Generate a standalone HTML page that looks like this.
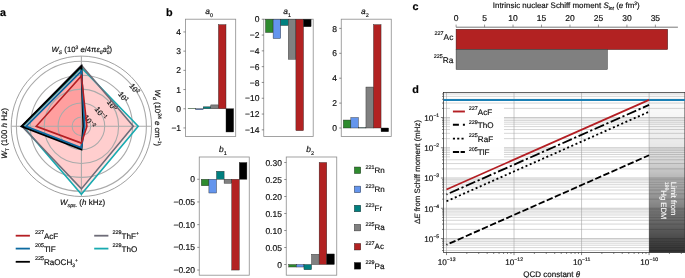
<!DOCTYPE html>
<html><head><meta charset="utf-8"><style>
html,body{margin:0;padding:0;background:#fff;width:685px;height:278px;overflow:hidden;font-family:"Liberation Sans",sans-serif;}
svg{display:block;will-change:transform;text-rendering:geometricPrecision}
text{stroke:#111;stroke-width:0.18px;stroke-linejoin:round}
</style></head><body>
<svg width="685" height="278" viewBox="0 0 685 278"><polygon points="81.40,65.30 133.30,126.30 81.40,188.90 21.90,126.30" fill="#ff0000" fill-opacity="0.100" stroke="none"/>
<polygon points="81.40,67.60 138.20,126.30 81.40,194.30 23.00,126.30" fill="#ff0000" fill-opacity="0.100" stroke="none"/>
<polygon points="81.40,66.40 83.40,126.30 81.40,149.30 21.60,126.30" fill="#ff0000" fill-opacity="0.088" stroke="none"/>
<polygon points="81.40,71.00 84.60,126.30 81.40,147.80 26.00,126.30" fill="#ff0000" fill-opacity="0.088" stroke="none"/>
<polygon points="81.40,75.90 86.90,126.30 81.40,143.10 36.20,126.30" fill="#ff0000" fill-opacity="0.088" stroke="none"/>
<circle cx="81.40" cy="126.30" r="70.20" fill="none" stroke="#808080" stroke-width="0.75"/>
<circle cx="81.40" cy="126.30" r="9.30" fill="none" stroke="#aaaaaa" stroke-width="1.1"/>
<circle cx="81.40" cy="126.30" r="23.30" fill="none" stroke="#aaaaaa" stroke-width="1.1"/>
<circle cx="81.40" cy="126.30" r="37.20" fill="none" stroke="#aaaaaa" stroke-width="1.1"/>
<circle cx="81.40" cy="126.30" r="51.10" fill="none" stroke="#aaaaaa" stroke-width="1.1"/>
<circle cx="81.40" cy="126.30" r="65.00" fill="none" stroke="#aaaaaa" stroke-width="1.1"/>
<line x1="81.40" y1="56.10" x2="81.40" y2="196.50" stroke="#aaaaaa" stroke-width="1.1"/>
<line x1="11.20" y1="126.30" x2="151.60" y2="126.30" stroke="#aaaaaa" stroke-width="1.1"/>
<text x="0" y="0" font-family="Liberation Sans, sans-serif" font-size="7.6" fill="#111" text-anchor="middle" transform="translate(88.92,120.83) rotate(52) translate(0.8,2.7)">10<tspan dy="-2.9" font-size="5">−2</tspan></text>
<text x="0" y="0" font-family="Liberation Sans, sans-serif" font-size="7.6" fill="#111" text-anchor="middle" transform="translate(100.25,112.60) rotate(52) translate(0.8,2.7)">10<tspan dy="-2.9" font-size="5">−1</tspan></text>
<text x="0" y="0" font-family="Liberation Sans, sans-serif" font-size="7.6" fill="#111" text-anchor="middle" transform="translate(111.50,104.43) rotate(52) translate(0.8,2.7)">10<tspan dy="-2.9" font-size="5">0</tspan></text>
<text x="0" y="0" font-family="Liberation Sans, sans-serif" font-size="7.6" fill="#111" text-anchor="middle" transform="translate(122.74,96.26) rotate(52) translate(0.8,2.7)">10<tspan dy="-2.9" font-size="5">1</tspan></text>
<text x="0" y="0" font-family="Liberation Sans, sans-serif" font-size="7.6" fill="#111" text-anchor="middle" transform="translate(133.99,88.09) rotate(52) translate(0.8,2.7)">10<tspan dy="-2.9" font-size="5">2</tspan></text>
<polygon points="81.40,67.60 138.20,126.30 81.40,194.30 23.00,126.30" fill="none" stroke="#18aab0" stroke-width="1.6" stroke-linejoin="miter"/>
<polygon points="81.40,65.30 133.30,126.30 81.40,188.90 21.90,126.30" fill="none" stroke="#6e6c78" stroke-width="1.6" stroke-linejoin="miter"/>
<polygon points="81.40,66.40 83.40,126.30 81.40,149.30 21.60,126.30" fill="none" stroke="#000000" stroke-width="2.0" stroke-linejoin="miter"/>
<polygon points="81.40,71.00 84.60,126.30 81.40,147.80 26.00,126.30" fill="none" stroke="#0c6aa0" stroke-width="1.8" stroke-linejoin="miter"/>
<polygon points="81.40,75.90 86.90,126.30 81.40,143.10 36.20,126.30" fill="none" stroke="#b41e23" stroke-width="1.6" stroke-linejoin="miter"/>
<text x="0" y="15.5" font-family="Liberation Sans, sans-serif" font-size="10.8" font-weight="bold">a</text>
<text x="51.6" y="51.7" font-family="Liberation Sans, sans-serif" font-size="7.7" fill="#111"><tspan font-style="italic">W</tspan><tspan font-size="5" dy="1.8" font-style="italic">S</tspan><tspan dy="-1.8"> (10</tspan><tspan font-size="5" dy="-3">3</tspan><tspan dy="3"> </tspan><tspan font-style="italic">e</tspan>/4π<tspan font-style="italic">ε</tspan><tspan font-size="5" dy="1.8">0</tspan><tspan dy="-1.8" font-style="italic">a</tspan><tspan font-size="5" dy="1.8">0</tspan><tspan font-size="5" dx="-2.8" dy="-4.8">3</tspan><tspan dy="3">)</tspan></text>
<text x="60" y="205.2" font-family="Liberation Sans, sans-serif" font-size="8" fill="#111"><tspan font-style="italic">W</tspan><tspan font-size="5.2" dy="2.2" font-style="italic">sps.</tspan><tspan dy="-2.2"> (</tspan><tspan font-style="italic">h</tspan> kHz)</text>
<text x="0" y="0" font-family="Liberation Sans, sans-serif" font-size="8.1" fill="#111" transform="translate(7.0,158.8) rotate(-90)"><tspan font-style="italic">W</tspan><tspan font-size="5" dy="1.8">T</tspan><tspan dy="-1.8"> (100 </tspan><tspan font-style="italic">h</tspan> Hz)</text>
<text x="0" y="0" font-family="Liberation Sans, sans-serif" font-size="7.8" fill="#111" transform="translate(155.3,89.6) rotate(90)"><tspan font-style="italic">W</tspan><tspan font-size="5" dy="1.8">d</tspan><tspan dy="-1.8"> (10</tspan><tspan font-size="5" dy="-3">24</tspan><tspan dy="3"> </tspan><tspan font-style="italic">e</tspan> cm<tspan font-size="5" dy="-3">−1</tspan><tspan dy="3">)</tspan></text>
<line x1="15.7" y1="235.7" x2="29.9" y2="235.7" stroke="#b41e23" stroke-width="1.8"/>
<text x="34.9" y="238.7" font-family="Liberation Sans, sans-serif" font-size="8.1" fill="#111"><tspan font-size="5.4" dy="-4.6">227</tspan><tspan dy="4.6">AcF</tspan></text>
<line x1="15.7" y1="248.6" x2="29.9" y2="248.6" stroke="#0c6aa0" stroke-width="1.8"/>
<text x="34.9" y="251.6" font-family="Liberation Sans, sans-serif" font-size="8.1" fill="#111"><tspan font-size="5.4" dy="-4.6">205</tspan><tspan dy="4.6">TlF</tspan></text>
<line x1="15.7" y1="261.8" x2="29.9" y2="261.8" stroke="#000000" stroke-width="1.8"/>
<text x="34.9" y="264.8" font-family="Liberation Sans, sans-serif" font-size="8.1" fill="#111"><tspan font-size="5.4" dy="-4.6">225</tspan><tspan dy="4.6">RaOCH<tspan font-size="5" dy="1.8">3</tspan><tspan font-size="5" dy="-4.8">+</tspan></tspan></text>
<line x1="94.2" y1="235.7" x2="108.4" y2="235.7" stroke="#6e6c78" stroke-width="1.8"/>
<text x="112.5" y="238.7" font-family="Liberation Sans, sans-serif" font-size="8.1" fill="#111"><tspan font-size="5.4" dy="-4.6">229</tspan><tspan dy="4.6">ThF<tspan font-size="5" dy="-3.5">+</tspan></tspan></text>
<line x1="94.2" y1="248.6" x2="108.4" y2="248.6" stroke="#18aab0" stroke-width="1.8"/>
<text x="112.5" y="251.6" font-family="Liberation Sans, sans-serif" font-size="8.1" fill="#111"><tspan font-size="5.4" dy="-4.6">229</tspan><tspan dy="4.6">ThO</tspan></text>
<text x="166" y="16.1" font-family="Liberation Sans, sans-serif" font-size="10.8" font-weight="bold">b</text>
<rect x="185.40" y="19.20" width="50.30" height="117.30" fill="none" stroke="#8c8c8c" stroke-width="0.8"/>
<rect x="188.00" y="108.37" width="7.60" height="0.38" fill="#2e8b2e" stroke="#222" stroke-width="0.4"/>
<rect x="195.60" y="108.75" width="7.60" height="0.96" fill="#6495ed" stroke="#222" stroke-width="0.4"/>
<rect x="203.20" y="106.83" width="7.60" height="1.92" fill="#008080" stroke="#222" stroke-width="0.4"/>
<rect x="210.80" y="104.91" width="7.60" height="3.84" fill="#808080" stroke="#222" stroke-width="0.4"/>
<rect x="218.40" y="24.65" width="7.60" height="84.10" fill="#b22222" stroke="#222" stroke-width="0.4"/>
<rect x="226.00" y="108.75" width="7.60" height="23.23" fill="#000000" stroke="#222" stroke-width="0.4"/>
<line x1="183.40" y1="31.95" x2="185.40" y2="31.95" stroke="#444" stroke-width="0.6"/>
<text x="181.10" y="35.05" font-family="Liberation Sans, sans-serif" font-size="8.5" fill="#111" text-anchor="end">4</text>
<line x1="183.40" y1="51.15" x2="185.40" y2="51.15" stroke="#444" stroke-width="0.6"/>
<text x="181.10" y="54.25" font-family="Liberation Sans, sans-serif" font-size="8.5" fill="#111" text-anchor="end">3</text>
<line x1="183.40" y1="70.35" x2="185.40" y2="70.35" stroke="#444" stroke-width="0.6"/>
<text x="181.10" y="73.45" font-family="Liberation Sans, sans-serif" font-size="8.5" fill="#111" text-anchor="end">2</text>
<line x1="183.40" y1="89.55" x2="185.40" y2="89.55" stroke="#444" stroke-width="0.6"/>
<text x="181.10" y="92.65" font-family="Liberation Sans, sans-serif" font-size="8.5" fill="#111" text-anchor="end">1</text>
<line x1="183.40" y1="108.75" x2="185.40" y2="108.75" stroke="#444" stroke-width="0.6"/>
<text x="181.10" y="111.85" font-family="Liberation Sans, sans-serif" font-size="8.5" fill="#111" text-anchor="end">0</text>
<line x1="183.40" y1="127.95" x2="185.40" y2="127.95" stroke="#444" stroke-width="0.6"/>
<text x="181.10" y="131.05" font-family="Liberation Sans, sans-serif" font-size="8.5" fill="#111" text-anchor="end">−1</text>
<text x="209.15" y="14.40" font-family="Liberation Sans, sans-serif" font-size="8.4" fill="#111" text-anchor="middle"><tspan font-style="italic">a</tspan><tspan font-size="5.4" dy="2.4">0</tspan></text>
<rect x="263.75" y="19.20" width="49.45" height="117.30" fill="none" stroke="#8c8c8c" stroke-width="0.8"/>
<rect x="265.50" y="19.25" width="7.60" height="13.27" fill="#2e8b2e" stroke="#222" stroke-width="0.4"/>
<rect x="273.10" y="19.25" width="7.60" height="19.28" fill="#6495ed" stroke="#222" stroke-width="0.4"/>
<rect x="280.70" y="19.25" width="7.60" height="6.24" fill="#008080" stroke="#222" stroke-width="0.4"/>
<rect x="288.30" y="19.25" width="7.60" height="39.97" fill="#808080" stroke="#222" stroke-width="0.4"/>
<rect x="295.90" y="19.25" width="7.60" height="111.39" fill="#b22222" stroke="#222" stroke-width="0.4"/>
<rect x="303.50" y="19.25" width="7.60" height="7.50" fill="#000000" stroke="#222" stroke-width="0.4"/>
<line x1="261.75" y1="19.25" x2="263.75" y2="19.25" stroke="#444" stroke-width="0.6"/>
<text x="259.45" y="22.35" font-family="Liberation Sans, sans-serif" font-size="8.5" fill="#111" text-anchor="end">0</text>
<line x1="261.75" y1="35.05" x2="263.75" y2="35.05" stroke="#444" stroke-width="0.6"/>
<text x="259.45" y="38.15" font-family="Liberation Sans, sans-serif" font-size="8.5" fill="#111" text-anchor="end">−2</text>
<line x1="261.75" y1="50.85" x2="263.75" y2="50.85" stroke="#444" stroke-width="0.6"/>
<text x="259.45" y="53.95" font-family="Liberation Sans, sans-serif" font-size="8.5" fill="#111" text-anchor="end">−4</text>
<line x1="261.75" y1="66.65" x2="263.75" y2="66.65" stroke="#444" stroke-width="0.6"/>
<text x="259.45" y="69.75" font-family="Liberation Sans, sans-serif" font-size="8.5" fill="#111" text-anchor="end">−6</text>
<line x1="261.75" y1="82.45" x2="263.75" y2="82.45" stroke="#444" stroke-width="0.6"/>
<text x="259.45" y="85.55" font-family="Liberation Sans, sans-serif" font-size="8.5" fill="#111" text-anchor="end">−8</text>
<line x1="261.75" y1="98.25" x2="263.75" y2="98.25" stroke="#444" stroke-width="0.6"/>
<text x="259.45" y="101.35" font-family="Liberation Sans, sans-serif" font-size="8.5" fill="#111" text-anchor="end">−10</text>
<line x1="261.75" y1="114.05" x2="263.75" y2="114.05" stroke="#444" stroke-width="0.6"/>
<text x="259.45" y="117.15" font-family="Liberation Sans, sans-serif" font-size="8.5" fill="#111" text-anchor="end">−12</text>
<line x1="261.75" y1="129.85" x2="263.75" y2="129.85" stroke="#444" stroke-width="0.6"/>
<text x="259.45" y="132.95" font-family="Liberation Sans, sans-serif" font-size="8.5" fill="#111" text-anchor="end">−14</text>
<text x="287.08" y="14.40" font-family="Liberation Sans, sans-serif" font-size="8.4" fill="#111" text-anchor="middle"><tspan font-style="italic">a</tspan><tspan font-size="5.4" dy="2.4">1</tspan></text>
<rect x="341.25" y="19.20" width="50.00" height="117.30" fill="none" stroke="#8c8c8c" stroke-width="0.8"/>
<rect x="343.30" y="120.03" width="7.55" height="7.97" fill="#2e8b2e" stroke="#222" stroke-width="0.4"/>
<rect x="350.85" y="117.54" width="7.55" height="10.46" fill="#6495ed" stroke="#222" stroke-width="0.4"/>
<rect x="358.40" y="127.75" width="7.55" height="0.30" fill="#008080" stroke="#222" stroke-width="0.4"/>
<rect x="365.95" y="87.04" width="7.55" height="40.96" fill="#808080" stroke="#222" stroke-width="0.4"/>
<rect x="373.50" y="24.66" width="7.55" height="103.34" fill="#b22222" stroke="#222" stroke-width="0.4"/>
<rect x="381.05" y="128.00" width="7.55" height="3.74" fill="#000000" stroke="#222" stroke-width="0.4"/>
<line x1="339.25" y1="28.40" x2="341.25" y2="28.40" stroke="#444" stroke-width="0.6"/>
<text x="336.95" y="31.50" font-family="Liberation Sans, sans-serif" font-size="8.5" fill="#111" text-anchor="end">8</text>
<line x1="339.25" y1="53.30" x2="341.25" y2="53.30" stroke="#444" stroke-width="0.6"/>
<text x="336.95" y="56.40" font-family="Liberation Sans, sans-serif" font-size="8.5" fill="#111" text-anchor="end">6</text>
<line x1="339.25" y1="78.20" x2="341.25" y2="78.20" stroke="#444" stroke-width="0.6"/>
<text x="336.95" y="81.30" font-family="Liberation Sans, sans-serif" font-size="8.5" fill="#111" text-anchor="end">4</text>
<line x1="339.25" y1="103.10" x2="341.25" y2="103.10" stroke="#444" stroke-width="0.6"/>
<text x="336.95" y="106.20" font-family="Liberation Sans, sans-serif" font-size="8.5" fill="#111" text-anchor="end">2</text>
<line x1="339.25" y1="128.00" x2="341.25" y2="128.00" stroke="#444" stroke-width="0.6"/>
<text x="336.95" y="131.10" font-family="Liberation Sans, sans-serif" font-size="8.5" fill="#111" text-anchor="end">0</text>
<text x="364.85" y="14.40" font-family="Liberation Sans, sans-serif" font-size="8.4" fill="#111" text-anchor="middle"><tspan font-style="italic">a</tspan><tspan font-size="5.4" dy="2.4">2</tspan></text>
<rect x="199.25" y="157.00" width="50.00" height="118.20" fill="none" stroke="#8c8c8c" stroke-width="0.8"/>
<rect x="201.30" y="179.25" width="7.60" height="6.49" fill="#2e8b2e" stroke="#222" stroke-width="0.4"/>
<rect x="208.90" y="179.25" width="7.60" height="13.76" fill="#6495ed" stroke="#222" stroke-width="0.4"/>
<rect x="216.50" y="171.26" width="7.60" height="7.99" fill="#008080" stroke="#222" stroke-width="0.4"/>
<rect x="224.10" y="179.25" width="7.60" height="4.00" fill="#808080" stroke="#222" stroke-width="0.4"/>
<rect x="231.70" y="179.25" width="7.60" height="90.80" fill="#b22222" stroke="#222" stroke-width="0.4"/>
<rect x="239.30" y="162.54" width="7.60" height="16.71" fill="#000000" stroke="#222" stroke-width="0.4"/>
<line x1="197.25" y1="179.25" x2="199.25" y2="179.25" stroke="#444" stroke-width="0.6"/>
<text x="194.95" y="182.35" font-family="Liberation Sans, sans-serif" font-size="8.5" fill="#111" text-anchor="end">0</text>
<line x1="197.25" y1="201.95" x2="199.25" y2="201.95" stroke="#444" stroke-width="0.6"/>
<text x="194.95" y="205.05" font-family="Liberation Sans, sans-serif" font-size="8.5" fill="#111" text-anchor="end">−0.05</text>
<line x1="197.25" y1="224.65" x2="199.25" y2="224.65" stroke="#444" stroke-width="0.6"/>
<text x="194.95" y="227.75" font-family="Liberation Sans, sans-serif" font-size="8.5" fill="#111" text-anchor="end">−0.10</text>
<line x1="197.25" y1="247.35" x2="199.25" y2="247.35" stroke="#444" stroke-width="0.6"/>
<text x="194.95" y="250.45" font-family="Liberation Sans, sans-serif" font-size="8.5" fill="#111" text-anchor="end">−0.15</text>
<line x1="197.25" y1="270.05" x2="199.25" y2="270.05" stroke="#444" stroke-width="0.6"/>
<text x="194.95" y="273.15" font-family="Liberation Sans, sans-serif" font-size="8.5" fill="#111" text-anchor="end">−0.20</text>
<text x="222.85" y="152.20" font-family="Liberation Sans, sans-serif" font-size="8.4" fill="#111" text-anchor="middle"><tspan font-style="italic">b</tspan><tspan font-size="5.4" dy="2.4">1</tspan></text>
<rect x="286.25" y="157.00" width="50.50" height="118.20" fill="none" stroke="#8c8c8c" stroke-width="0.8"/>
<rect x="288.75" y="264.50" width="7.60" height="2.52" fill="#2e8b2e" stroke="#222" stroke-width="0.4"/>
<rect x="296.35" y="264.50" width="7.60" height="2.52" fill="#6495ed" stroke="#222" stroke-width="0.4"/>
<rect x="303.95" y="264.50" width="7.60" height="5.24" fill="#008080" stroke="#222" stroke-width="0.4"/>
<rect x="311.55" y="254.30" width="7.60" height="10.20" fill="#808080" stroke="#222" stroke-width="0.4"/>
<rect x="319.15" y="162.50" width="7.60" height="102.00" fill="#b22222" stroke="#222" stroke-width="0.4"/>
<rect x="326.75" y="253.96" width="7.60" height="10.54" fill="#000000" stroke="#222" stroke-width="0.4"/>
<line x1="284.25" y1="162.50" x2="286.25" y2="162.50" stroke="#444" stroke-width="0.6"/>
<text x="281.95" y="165.60" font-family="Liberation Sans, sans-serif" font-size="8.5" fill="#111" text-anchor="end">0.30</text>
<line x1="284.25" y1="179.50" x2="286.25" y2="179.50" stroke="#444" stroke-width="0.6"/>
<text x="281.95" y="182.60" font-family="Liberation Sans, sans-serif" font-size="8.5" fill="#111" text-anchor="end">0.25</text>
<line x1="284.25" y1="196.50" x2="286.25" y2="196.50" stroke="#444" stroke-width="0.6"/>
<text x="281.95" y="199.60" font-family="Liberation Sans, sans-serif" font-size="8.5" fill="#111" text-anchor="end">0.20</text>
<line x1="284.25" y1="213.50" x2="286.25" y2="213.50" stroke="#444" stroke-width="0.6"/>
<text x="281.95" y="216.60" font-family="Liberation Sans, sans-serif" font-size="8.5" fill="#111" text-anchor="end">0.15</text>
<line x1="284.25" y1="230.50" x2="286.25" y2="230.50" stroke="#444" stroke-width="0.6"/>
<text x="281.95" y="233.60" font-family="Liberation Sans, sans-serif" font-size="8.5" fill="#111" text-anchor="end">0.10</text>
<line x1="284.25" y1="247.50" x2="286.25" y2="247.50" stroke="#444" stroke-width="0.6"/>
<text x="281.95" y="250.60" font-family="Liberation Sans, sans-serif" font-size="8.5" fill="#111" text-anchor="end">0.05</text>
<line x1="284.25" y1="264.50" x2="286.25" y2="264.50" stroke="#444" stroke-width="0.6"/>
<text x="281.95" y="267.60" font-family="Liberation Sans, sans-serif" font-size="8.5" fill="#111" text-anchor="end">0</text>
<text x="310.10" y="152.20" font-family="Liberation Sans, sans-serif" font-size="8.4" fill="#111" text-anchor="middle"><tspan font-style="italic">b</tspan><tspan font-size="5.4" dy="2.4">2</tspan></text>
<rect x="354.3" y="167.00" width="6.5" height="6.6" fill="#2e8b2e" stroke="#222" stroke-width="0.4"/>
<text x="365.6" y="173.00" font-family="Liberation Sans, sans-serif" font-size="8" fill="#111"><tspan font-size="5.4" dy="-4.2">221</tspan><tspan dy="4.2">Rn</tspan></text>
<rect x="354.3" y="186.10" width="6.5" height="6.6" fill="#6495ed" stroke="#222" stroke-width="0.4"/>
<text x="365.6" y="192.10" font-family="Liberation Sans, sans-serif" font-size="8" fill="#111"><tspan font-size="5.4" dy="-4.2">223</tspan><tspan dy="4.2">Rn</tspan></text>
<rect x="354.3" y="205.20" width="6.5" height="6.6" fill="#008080" stroke="#222" stroke-width="0.4"/>
<text x="365.6" y="211.20" font-family="Liberation Sans, sans-serif" font-size="8" fill="#111"><tspan font-size="5.4" dy="-4.2">223</tspan><tspan dy="4.2">Fr</tspan></text>
<rect x="354.3" y="224.30" width="6.5" height="6.6" fill="#808080" stroke="#222" stroke-width="0.4"/>
<text x="365.6" y="230.30" font-family="Liberation Sans, sans-serif" font-size="8" fill="#111"><tspan font-size="5.4" dy="-4.2">225</tspan><tspan dy="4.2">Ra</tspan></text>
<rect x="354.3" y="243.40" width="6.5" height="6.6" fill="#b22222" stroke="#222" stroke-width="0.4"/>
<text x="365.6" y="249.40" font-family="Liberation Sans, sans-serif" font-size="8" fill="#111"><tspan font-size="5.4" dy="-4.2">227</tspan><tspan dy="4.2">Ac</tspan></text>
<rect x="354.3" y="262.50" width="6.5" height="6.6" fill="#000000" stroke="#222" stroke-width="0.4"/>
<text x="365.6" y="268.50" font-family="Liberation Sans, sans-serif" font-size="8" fill="#111"><tspan font-size="5.4" dy="-4.2">229</tspan><tspan dy="4.2">Pa</tspan></text>
<text x="412.5" y="9.9" font-family="Liberation Sans, sans-serif" font-size="10.8" font-weight="bold">c</text>
<text x="492.8" y="7.8" font-family="Liberation Sans, sans-serif" font-size="7.95" fill="#111">Intrinsic nuclear Schiff moment <tspan font-style="italic">S</tspan><tspan font-size="5" dy="1.8" font-style="italic">int</tspan><tspan dy="-1.8"> (</tspan><tspan font-style="italic">e</tspan> fm<tspan font-size="5" dy="-3">3</tspan><tspan dy="3">)</tspan></text>
<line x1="456.10" y1="27.2" x2="677.9" y2="27.2" stroke="#555" stroke-width="0.8"/>
<line x1="456.10" y1="24.6" x2="456.10" y2="27.2" stroke="#555" stroke-width="0.6"/>
<text x="456.10" y="21.4" font-family="Liberation Sans, sans-serif" font-size="8.5" fill="#111" text-anchor="middle">0</text>
<line x1="484.57" y1="24.6" x2="484.57" y2="27.2" stroke="#555" stroke-width="0.6"/>
<text x="484.57" y="21.4" font-family="Liberation Sans, sans-serif" font-size="8.5" fill="#111" text-anchor="middle">5</text>
<line x1="513.04" y1="24.6" x2="513.04" y2="27.2" stroke="#555" stroke-width="0.6"/>
<text x="513.04" y="21.4" font-family="Liberation Sans, sans-serif" font-size="8.5" fill="#111" text-anchor="middle">10</text>
<line x1="541.51" y1="24.6" x2="541.51" y2="27.2" stroke="#555" stroke-width="0.6"/>
<text x="541.51" y="21.4" font-family="Liberation Sans, sans-serif" font-size="8.5" fill="#111" text-anchor="middle">15</text>
<line x1="569.98" y1="24.6" x2="569.98" y2="27.2" stroke="#555" stroke-width="0.6"/>
<text x="569.98" y="21.4" font-family="Liberation Sans, sans-serif" font-size="8.5" fill="#111" text-anchor="middle">20</text>
<line x1="598.45" y1="24.6" x2="598.45" y2="27.2" stroke="#555" stroke-width="0.6"/>
<text x="598.45" y="21.4" font-family="Liberation Sans, sans-serif" font-size="8.5" fill="#111" text-anchor="middle">25</text>
<line x1="626.92" y1="24.6" x2="626.92" y2="27.2" stroke="#555" stroke-width="0.6"/>
<text x="626.92" y="21.4" font-family="Liberation Sans, sans-serif" font-size="8.5" fill="#111" text-anchor="middle">30</text>
<line x1="655.39" y1="24.6" x2="655.39" y2="27.2" stroke="#555" stroke-width="0.6"/>
<text x="655.39" y="21.4" font-family="Liberation Sans, sans-serif" font-size="8.5" fill="#111" text-anchor="middle">35</text>
<rect x="456.10" y="29.3" width="211.53" height="20.2" fill="#b22222" stroke="#3a1010" stroke-width="0.5"/>
<rect x="456.10" y="49.5" width="151.18" height="19.9" fill="#808080" stroke="#333" stroke-width="0.5"/>
<text x="453.3" y="39.6" font-family="Liberation Sans, sans-serif" font-size="8.3" fill="#111" text-anchor="end"><tspan font-size="5.4" dy="-4.4">227</tspan><tspan dy="4.4">Ac</tspan></text>
<text x="453.3" y="62.7" font-family="Liberation Sans, sans-serif" font-size="8.3" fill="#111" text-anchor="end"><tspan font-size="5.4" dy="-4.4">225</tspan><tspan dy="4.4">Ra</tspan></text>
<text x="412.3" y="93.1" font-family="Liberation Sans, sans-serif" font-size="10.8" font-weight="bold">d</text>
<defs><linearGradient id="gg" x1="0" y1="0" x2="0" y2="1"><stop offset="0.000" stop-color="#000" stop-opacity="0.012"/><stop offset="0.110" stop-color="#000" stop-opacity="0.027"/><stop offset="0.235" stop-color="#000" stop-opacity="0.055"/><stop offset="0.329" stop-color="#000" stop-opacity="0.090"/><stop offset="0.423" stop-color="#000" stop-opacity="0.157"/><stop offset="0.517" stop-color="#000" stop-opacity="0.263"/><stop offset="0.610" stop-color="#000" stop-opacity="0.373"/><stop offset="0.704" stop-color="#000" stop-opacity="0.478"/><stop offset="0.798" stop-color="#000" stop-opacity="0.588"/><stop offset="0.892" stop-color="#000" stop-opacity="0.686"/><stop offset="1.000" stop-color="#000" stop-opacity="0.812"/></linearGradient><clipPath id="dc"><rect x="443.50" y="92.50" width="241.40" height="160.00"/></clipPath></defs>
<g clip-path="url(#dc)">
<line x1="443.50" y1="250.54" x2="684.90" y2="250.54" stroke="#a0a0a0" stroke-opacity="0.55" stroke-width="0.8"/>
<line x1="443.50" y1="247.61" x2="684.90" y2="247.61" stroke="#a0a0a0" stroke-opacity="0.55" stroke-width="0.8"/>
<line x1="443.50" y1="245.21" x2="684.90" y2="245.21" stroke="#a0a0a0" stroke-opacity="0.55" stroke-width="0.8"/>
<line x1="443.50" y1="243.19" x2="684.90" y2="243.19" stroke="#a0a0a0" stroke-opacity="0.55" stroke-width="0.8"/>
<line x1="443.50" y1="241.43" x2="684.90" y2="241.43" stroke="#a0a0a0" stroke-opacity="0.55" stroke-width="0.8"/>
<line x1="443.50" y1="239.88" x2="684.90" y2="239.88" stroke="#a0a0a0" stroke-opacity="0.55" stroke-width="0.8"/>
<line x1="443.50" y1="238.50" x2="684.90" y2="238.50" stroke="#a0a0a0" stroke-opacity="0.70" stroke-width="0.8"/>
<line x1="443.50" y1="229.39" x2="684.90" y2="229.39" stroke="#a0a0a0" stroke-opacity="0.55" stroke-width="0.8"/>
<line x1="443.50" y1="224.07" x2="684.90" y2="224.07" stroke="#a0a0a0" stroke-opacity="0.55" stroke-width="0.8"/>
<line x1="443.50" y1="220.29" x2="684.90" y2="220.29" stroke="#a0a0a0" stroke-opacity="0.55" stroke-width="0.8"/>
<line x1="443.50" y1="217.36" x2="684.90" y2="217.36" stroke="#a0a0a0" stroke-opacity="0.55" stroke-width="0.8"/>
<line x1="443.50" y1="214.96" x2="684.90" y2="214.96" stroke="#a0a0a0" stroke-opacity="0.55" stroke-width="0.8"/>
<line x1="443.50" y1="212.94" x2="684.90" y2="212.94" stroke="#a0a0a0" stroke-opacity="0.55" stroke-width="0.8"/>
<line x1="443.50" y1="211.18" x2="684.90" y2="211.18" stroke="#a0a0a0" stroke-opacity="0.55" stroke-width="0.8"/>
<line x1="443.50" y1="209.63" x2="684.90" y2="209.63" stroke="#a0a0a0" stroke-opacity="0.55" stroke-width="0.8"/>
<line x1="443.50" y1="208.25" x2="684.90" y2="208.25" stroke="#a0a0a0" stroke-opacity="0.70" stroke-width="0.8"/>
<line x1="443.50" y1="199.14" x2="684.90" y2="199.14" stroke="#a0a0a0" stroke-opacity="0.55" stroke-width="0.8"/>
<line x1="443.50" y1="193.82" x2="684.90" y2="193.82" stroke="#a0a0a0" stroke-opacity="0.55" stroke-width="0.8"/>
<line x1="443.50" y1="190.04" x2="684.90" y2="190.04" stroke="#a0a0a0" stroke-opacity="0.55" stroke-width="0.8"/>
<line x1="443.50" y1="187.11" x2="684.90" y2="187.11" stroke="#a0a0a0" stroke-opacity="0.55" stroke-width="0.8"/>
<line x1="443.50" y1="184.71" x2="684.90" y2="184.71" stroke="#a0a0a0" stroke-opacity="0.55" stroke-width="0.8"/>
<line x1="443.50" y1="182.69" x2="684.90" y2="182.69" stroke="#a0a0a0" stroke-opacity="0.55" stroke-width="0.8"/>
<line x1="443.50" y1="180.93" x2="684.90" y2="180.93" stroke="#a0a0a0" stroke-opacity="0.55" stroke-width="0.8"/>
<line x1="443.50" y1="179.38" x2="684.90" y2="179.38" stroke="#a0a0a0" stroke-opacity="0.55" stroke-width="0.8"/>
<line x1="443.50" y1="178.00" x2="684.90" y2="178.00" stroke="#a0a0a0" stroke-opacity="0.70" stroke-width="0.8"/>
<line x1="443.50" y1="168.89" x2="684.90" y2="168.89" stroke="#a0a0a0" stroke-opacity="0.55" stroke-width="0.8"/>
<line x1="443.50" y1="163.57" x2="684.90" y2="163.57" stroke="#a0a0a0" stroke-opacity="0.55" stroke-width="0.8"/>
<line x1="443.50" y1="159.79" x2="684.90" y2="159.79" stroke="#a0a0a0" stroke-opacity="0.55" stroke-width="0.8"/>
<line x1="443.50" y1="156.86" x2="684.90" y2="156.86" stroke="#a0a0a0" stroke-opacity="0.55" stroke-width="0.8"/>
<line x1="443.50" y1="154.46" x2="684.90" y2="154.46" stroke="#a0a0a0" stroke-opacity="0.55" stroke-width="0.8"/>
<line x1="443.50" y1="152.44" x2="684.90" y2="152.44" stroke="#a0a0a0" stroke-opacity="0.55" stroke-width="0.8"/>
<line x1="443.50" y1="150.68" x2="684.90" y2="150.68" stroke="#a0a0a0" stroke-opacity="0.55" stroke-width="0.8"/>
<line x1="443.50" y1="149.13" x2="684.90" y2="149.13" stroke="#a0a0a0" stroke-opacity="0.55" stroke-width="0.8"/>
<line x1="443.50" y1="147.75" x2="684.90" y2="147.75" stroke="#a0a0a0" stroke-opacity="0.70" stroke-width="0.8"/>
<line x1="443.50" y1="138.64" x2="684.90" y2="138.64" stroke="#a0a0a0" stroke-opacity="0.55" stroke-width="0.8"/>
<line x1="443.50" y1="133.32" x2="684.90" y2="133.32" stroke="#a0a0a0" stroke-opacity="0.55" stroke-width="0.8"/>
<line x1="443.50" y1="129.54" x2="684.90" y2="129.54" stroke="#a0a0a0" stroke-opacity="0.55" stroke-width="0.8"/>
<line x1="443.50" y1="126.61" x2="684.90" y2="126.61" stroke="#a0a0a0" stroke-opacity="0.55" stroke-width="0.8"/>
<line x1="443.50" y1="124.21" x2="684.90" y2="124.21" stroke="#a0a0a0" stroke-opacity="0.55" stroke-width="0.8"/>
<line x1="443.50" y1="122.19" x2="684.90" y2="122.19" stroke="#a0a0a0" stroke-opacity="0.55" stroke-width="0.8"/>
<line x1="443.50" y1="120.43" x2="684.90" y2="120.43" stroke="#a0a0a0" stroke-opacity="0.55" stroke-width="0.8"/>
<line x1="443.50" y1="118.88" x2="684.90" y2="118.88" stroke="#a0a0a0" stroke-opacity="0.55" stroke-width="0.8"/>
<line x1="443.50" y1="117.50" x2="684.90" y2="117.50" stroke="#a0a0a0" stroke-opacity="0.70" stroke-width="0.8"/>
<line x1="443.50" y1="108.39" x2="684.90" y2="108.39" stroke="#a0a0a0" stroke-opacity="0.55" stroke-width="0.8"/>
<line x1="443.50" y1="103.07" x2="684.90" y2="103.07" stroke="#a0a0a0" stroke-opacity="0.55" stroke-width="0.8"/>
<line x1="443.50" y1="99.29" x2="684.90" y2="99.29" stroke="#a0a0a0" stroke-opacity="0.55" stroke-width="0.8"/>
<line x1="443.50" y1="96.36" x2="684.90" y2="96.36" stroke="#a0a0a0" stroke-opacity="0.55" stroke-width="0.8"/>
<line x1="443.50" y1="93.96" x2="684.90" y2="93.96" stroke="#a0a0a0" stroke-opacity="0.55" stroke-width="0.8"/>
<line x1="446.50" y1="92.50" x2="446.50" y2="252.50" stroke="#a0a0a0" stroke-opacity="0.7" stroke-width="0.8"/>
<line x1="514.03" y1="92.50" x2="514.03" y2="252.50" stroke="#a0a0a0" stroke-opacity="0.7" stroke-width="0.8"/>
<line x1="581.56" y1="92.50" x2="581.56" y2="252.50" stroke="#a0a0a0" stroke-opacity="0.7" stroke-width="0.8"/>
<line x1="649.09" y1="92.50" x2="649.09" y2="252.50" stroke="#a0a0a0" stroke-opacity="0.7" stroke-width="0.8"/>
</g>
<rect x="649.09" y="92.50" width="35.81" height="160.00" fill="url(#gg)"/>
<text x="0" y="0" font-family="Liberation Sans, sans-serif" font-size="7.7" fill="#fff" style="stroke:#fff;stroke-width:0.1px" transform="translate(671.3,181.7) rotate(90)">Limit from</text>
<text x="0" y="0" font-family="Liberation Sans, sans-serif" font-size="7.7" fill="#fff" style="stroke:#fff;stroke-width:0.1px" transform="translate(660.5,181.7) rotate(90)"><tspan font-size="5.2" dy="-4">199</tspan><tspan dy="4">Hg EDM</tspan></text>
<rect x="443.50" y="92.50" width="241.40" height="160.00" fill="none" stroke="#222" stroke-width="0.7"/>
<line x1="443.50" y1="250.54" x2="442.00" y2="250.54" stroke="#333" stroke-width="0.6"/>
<line x1="443.50" y1="247.61" x2="442.00" y2="247.61" stroke="#333" stroke-width="0.6"/>
<line x1="443.50" y1="245.21" x2="442.00" y2="245.21" stroke="#333" stroke-width="0.6"/>
<line x1="443.50" y1="243.19" x2="442.00" y2="243.19" stroke="#333" stroke-width="0.6"/>
<line x1="443.50" y1="241.43" x2="442.00" y2="241.43" stroke="#333" stroke-width="0.6"/>
<line x1="443.50" y1="239.88" x2="442.00" y2="239.88" stroke="#333" stroke-width="0.6"/>
<line x1="443.50" y1="238.50" x2="440.90" y2="238.50" stroke="#333" stroke-width="0.6"/>
<line x1="443.50" y1="229.39" x2="442.00" y2="229.39" stroke="#333" stroke-width="0.6"/>
<line x1="443.50" y1="224.07" x2="442.00" y2="224.07" stroke="#333" stroke-width="0.6"/>
<line x1="443.50" y1="220.29" x2="442.00" y2="220.29" stroke="#333" stroke-width="0.6"/>
<line x1="443.50" y1="217.36" x2="442.00" y2="217.36" stroke="#333" stroke-width="0.6"/>
<line x1="443.50" y1="214.96" x2="442.00" y2="214.96" stroke="#333" stroke-width="0.6"/>
<line x1="443.50" y1="212.94" x2="442.00" y2="212.94" stroke="#333" stroke-width="0.6"/>
<line x1="443.50" y1="211.18" x2="442.00" y2="211.18" stroke="#333" stroke-width="0.6"/>
<line x1="443.50" y1="209.63" x2="442.00" y2="209.63" stroke="#333" stroke-width="0.6"/>
<line x1="443.50" y1="208.25" x2="440.90" y2="208.25" stroke="#333" stroke-width="0.6"/>
<line x1="443.50" y1="199.14" x2="442.00" y2="199.14" stroke="#333" stroke-width="0.6"/>
<line x1="443.50" y1="193.82" x2="442.00" y2="193.82" stroke="#333" stroke-width="0.6"/>
<line x1="443.50" y1="190.04" x2="442.00" y2="190.04" stroke="#333" stroke-width="0.6"/>
<line x1="443.50" y1="187.11" x2="442.00" y2="187.11" stroke="#333" stroke-width="0.6"/>
<line x1="443.50" y1="184.71" x2="442.00" y2="184.71" stroke="#333" stroke-width="0.6"/>
<line x1="443.50" y1="182.69" x2="442.00" y2="182.69" stroke="#333" stroke-width="0.6"/>
<line x1="443.50" y1="180.93" x2="442.00" y2="180.93" stroke="#333" stroke-width="0.6"/>
<line x1="443.50" y1="179.38" x2="442.00" y2="179.38" stroke="#333" stroke-width="0.6"/>
<line x1="443.50" y1="178.00" x2="440.90" y2="178.00" stroke="#333" stroke-width="0.6"/>
<line x1="443.50" y1="168.89" x2="442.00" y2="168.89" stroke="#333" stroke-width="0.6"/>
<line x1="443.50" y1="163.57" x2="442.00" y2="163.57" stroke="#333" stroke-width="0.6"/>
<line x1="443.50" y1="159.79" x2="442.00" y2="159.79" stroke="#333" stroke-width="0.6"/>
<line x1="443.50" y1="156.86" x2="442.00" y2="156.86" stroke="#333" stroke-width="0.6"/>
<line x1="443.50" y1="154.46" x2="442.00" y2="154.46" stroke="#333" stroke-width="0.6"/>
<line x1="443.50" y1="152.44" x2="442.00" y2="152.44" stroke="#333" stroke-width="0.6"/>
<line x1="443.50" y1="150.68" x2="442.00" y2="150.68" stroke="#333" stroke-width="0.6"/>
<line x1="443.50" y1="149.13" x2="442.00" y2="149.13" stroke="#333" stroke-width="0.6"/>
<line x1="443.50" y1="147.75" x2="440.90" y2="147.75" stroke="#333" stroke-width="0.6"/>
<line x1="443.50" y1="138.64" x2="442.00" y2="138.64" stroke="#333" stroke-width="0.6"/>
<line x1="443.50" y1="133.32" x2="442.00" y2="133.32" stroke="#333" stroke-width="0.6"/>
<line x1="443.50" y1="129.54" x2="442.00" y2="129.54" stroke="#333" stroke-width="0.6"/>
<line x1="443.50" y1="126.61" x2="442.00" y2="126.61" stroke="#333" stroke-width="0.6"/>
<line x1="443.50" y1="124.21" x2="442.00" y2="124.21" stroke="#333" stroke-width="0.6"/>
<line x1="443.50" y1="122.19" x2="442.00" y2="122.19" stroke="#333" stroke-width="0.6"/>
<line x1="443.50" y1="120.43" x2="442.00" y2="120.43" stroke="#333" stroke-width="0.6"/>
<line x1="443.50" y1="118.88" x2="442.00" y2="118.88" stroke="#333" stroke-width="0.6"/>
<line x1="443.50" y1="117.50" x2="440.90" y2="117.50" stroke="#333" stroke-width="0.6"/>
<line x1="443.50" y1="108.39" x2="442.00" y2="108.39" stroke="#333" stroke-width="0.6"/>
<line x1="443.50" y1="103.07" x2="442.00" y2="103.07" stroke="#333" stroke-width="0.6"/>
<line x1="443.50" y1="99.29" x2="442.00" y2="99.29" stroke="#333" stroke-width="0.6"/>
<line x1="443.50" y1="96.36" x2="442.00" y2="96.36" stroke="#333" stroke-width="0.6"/>
<line x1="443.50" y1="93.96" x2="442.00" y2="93.96" stroke="#333" stroke-width="0.6"/>
<line x1="446.50" y1="252.50" x2="446.50" y2="255.10" stroke="#333" stroke-width="0.6"/>
<line x1="466.83" y1="252.50" x2="466.83" y2="254.00" stroke="#333" stroke-width="0.6"/>
<line x1="478.72" y1="252.50" x2="478.72" y2="254.00" stroke="#333" stroke-width="0.6"/>
<line x1="487.16" y1="252.50" x2="487.16" y2="254.00" stroke="#333" stroke-width="0.6"/>
<line x1="493.70" y1="252.50" x2="493.70" y2="254.00" stroke="#333" stroke-width="0.6"/>
<line x1="499.05" y1="252.50" x2="499.05" y2="254.00" stroke="#333" stroke-width="0.6"/>
<line x1="503.57" y1="252.50" x2="503.57" y2="254.00" stroke="#333" stroke-width="0.6"/>
<line x1="507.49" y1="252.50" x2="507.49" y2="254.00" stroke="#333" stroke-width="0.6"/>
<line x1="510.94" y1="252.50" x2="510.94" y2="254.00" stroke="#333" stroke-width="0.6"/>
<line x1="514.03" y1="252.50" x2="514.03" y2="255.10" stroke="#333" stroke-width="0.6"/>
<line x1="534.36" y1="252.50" x2="534.36" y2="254.00" stroke="#333" stroke-width="0.6"/>
<line x1="546.25" y1="252.50" x2="546.25" y2="254.00" stroke="#333" stroke-width="0.6"/>
<line x1="554.69" y1="252.50" x2="554.69" y2="254.00" stroke="#333" stroke-width="0.6"/>
<line x1="561.23" y1="252.50" x2="561.23" y2="254.00" stroke="#333" stroke-width="0.6"/>
<line x1="566.58" y1="252.50" x2="566.58" y2="254.00" stroke="#333" stroke-width="0.6"/>
<line x1="571.10" y1="252.50" x2="571.10" y2="254.00" stroke="#333" stroke-width="0.6"/>
<line x1="575.02" y1="252.50" x2="575.02" y2="254.00" stroke="#333" stroke-width="0.6"/>
<line x1="578.47" y1="252.50" x2="578.47" y2="254.00" stroke="#333" stroke-width="0.6"/>
<line x1="581.56" y1="252.50" x2="581.56" y2="255.10" stroke="#333" stroke-width="0.6"/>
<line x1="601.89" y1="252.50" x2="601.89" y2="254.00" stroke="#333" stroke-width="0.6"/>
<line x1="613.78" y1="252.50" x2="613.78" y2="254.00" stroke="#333" stroke-width="0.6"/>
<line x1="622.22" y1="252.50" x2="622.22" y2="254.00" stroke="#333" stroke-width="0.6"/>
<line x1="628.76" y1="252.50" x2="628.76" y2="254.00" stroke="#333" stroke-width="0.6"/>
<line x1="634.11" y1="252.50" x2="634.11" y2="254.00" stroke="#333" stroke-width="0.6"/>
<line x1="638.63" y1="252.50" x2="638.63" y2="254.00" stroke="#333" stroke-width="0.6"/>
<line x1="642.55" y1="252.50" x2="642.55" y2="254.00" stroke="#333" stroke-width="0.6"/>
<line x1="646.00" y1="252.50" x2="646.00" y2="254.00" stroke="#333" stroke-width="0.6"/>
<line x1="649.09" y1="252.50" x2="649.09" y2="255.10" stroke="#333" stroke-width="0.6"/>
<line x1="669.42" y1="252.50" x2="669.42" y2="254.00" stroke="#333" stroke-width="0.6"/>
<line x1="681.31" y1="252.50" x2="681.31" y2="254.00" stroke="#333" stroke-width="0.6"/>
<text x="439.2" y="120.80" font-family="Liberation Sans, sans-serif" font-size="8.2" fill="#111" text-anchor="end">10<tspan font-size="5.1" dy="-4.0">−1</tspan></text>
<text x="439.2" y="151.05" font-family="Liberation Sans, sans-serif" font-size="8.2" fill="#111" text-anchor="end">10<tspan font-size="5.1" dy="-4.0">−2</tspan></text>
<text x="439.2" y="181.30" font-family="Liberation Sans, sans-serif" font-size="8.2" fill="#111" text-anchor="end">10<tspan font-size="5.1" dy="-4.0">−3</tspan></text>
<text x="439.2" y="211.55" font-family="Liberation Sans, sans-serif" font-size="8.2" fill="#111" text-anchor="end">10<tspan font-size="5.1" dy="-4.0">−4</tspan></text>
<text x="439.2" y="241.80" font-family="Liberation Sans, sans-serif" font-size="8.2" fill="#111" text-anchor="end">10<tspan font-size="5.1" dy="-4.0">−5</tspan></text>
<text x="446.60" y="264.8" font-family="Liberation Sans, sans-serif" font-size="8.2" fill="#111" text-anchor="middle">10<tspan font-size="5.1" dy="-4.0">−13</tspan></text>
<text x="514.13" y="264.8" font-family="Liberation Sans, sans-serif" font-size="8.2" fill="#111" text-anchor="middle">10<tspan font-size="5.1" dy="-4.0">−12</tspan></text>
<text x="581.66" y="264.8" font-family="Liberation Sans, sans-serif" font-size="8.2" fill="#111" text-anchor="middle">10<tspan font-size="5.1" dy="-4.0">−11</tspan></text>
<text x="649.19" y="264.8" font-family="Liberation Sans, sans-serif" font-size="8.2" fill="#111" text-anchor="middle">10<tspan font-size="5.1" dy="-4.0">−10</tspan></text>
<text x="523.3" y="276.6" font-family="Liberation Sans, sans-serif" font-size="8" fill="#111">QCD constant <tspan font-style="italic">θ</tspan></text>
<text x="0" y="0" font-family="Liberation Sans, sans-serif" font-size="7.85" fill="#111" text-anchor="middle" transform="translate(420.2,172) rotate(-90)">Δ<tspan font-style="italic">E</tspan> from Schiff moment (mHz)</text>
<line x1="443.50" y1="100.0" x2="684.90" y2="100.0" stroke="#1a80b5" stroke-width="2.0"/>
<line x1="446.50" y1="189.50" x2="649.09" y2="99.90" stroke="#b41e23" stroke-width="1.7"  stroke-dashoffset="0.00"/>
<line x1="446.50" y1="194.50" x2="649.09" y2="104.90" stroke="#000" stroke-width="1.8" stroke-dasharray="10.2,2.6,2.2,2.6" stroke-dashoffset="-3.60"/>
<line x1="446.50" y1="201.30" x2="649.09" y2="111.70" stroke="#000" stroke-width="1.8" stroke-dasharray="2,2.55" stroke-dashoffset="0.00"/>
<line x1="446.50" y1="244.80" x2="649.09" y2="155.20" stroke="#000" stroke-width="1.8" stroke-dasharray="6.45,2.4" stroke-dashoffset="-3.40"/>
<rect x="450" y="105.5" width="54" height="52.5" fill="#fff" fill-opacity="0.97"/>
<line x1="452.9" y1="111.50" x2="464.9" y2="111.50" stroke="#b41e23" stroke-width="1.9" />
<text x="468.8" y="114.50" font-family="Liberation Sans, sans-serif" font-size="8.1" fill="#111"><tspan font-size="5.4" dy="-4.2">227</tspan><tspan dy="4.2">AcF</tspan></text>
<line x1="452.9" y1="124.80" x2="464.9" y2="124.80" stroke="#000" stroke-width="1.9" stroke-dasharray="6.0,4,2.2,4"/>
<text x="468.8" y="127.80" font-family="Liberation Sans, sans-serif" font-size="8.1" fill="#111"><tspan font-size="5.4" dy="-4.2">229</tspan><tspan dy="4.2">ThO</tspan></text>
<line x1="452.9" y1="138.60" x2="464.9" y2="138.60" stroke="#000" stroke-width="1.9" stroke-dasharray="2.1,2.2"/>
<text x="468.8" y="141.60" font-family="Liberation Sans, sans-serif" font-size="8.1" fill="#111"><tspan font-size="5.4" dy="-4.2">225</tspan><tspan dy="4.2">RaF</tspan></text>
<line x1="452.9" y1="152.00" x2="464.9" y2="152.00" stroke="#000" stroke-width="1.9" stroke-dasharray="6.2,1.5"/>
<text x="468.8" y="155.00" font-family="Liberation Sans, sans-serif" font-size="8.1" fill="#111"><tspan font-size="5.4" dy="-4.2">205</tspan><tspan dy="4.2">TlF</tspan></text></svg>
</body></html>
